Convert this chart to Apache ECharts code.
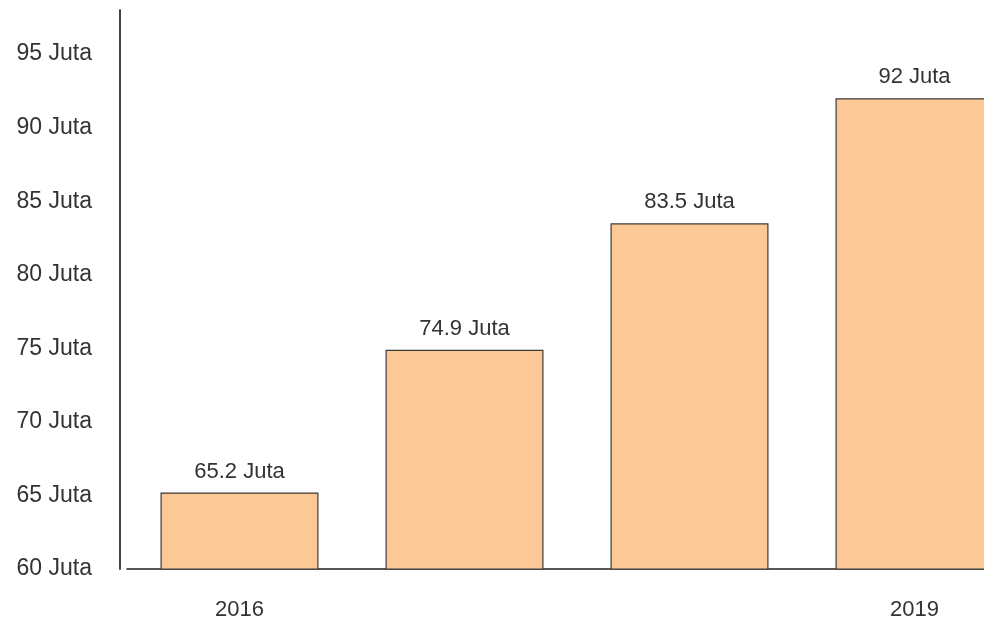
<!DOCTYPE html>
<html>
<head>
<meta charset="utf-8">
<script src="https://cdn.jsdelivr.net/npm/echarts@6/dist/echarts.min.js"></script>
<style>html,body{margin:0;padding:0;background:#fff;overflow:hidden}#c{width:984px;height:621px}</style>
</head>
<body>
<div id="c"></div>
<script>
const categories = ['2016', '2017', '2018', '2019'];
const values = [65.2, 74.9, 83.5, 92];
const shownXLabels = ['2016', '2019'];
const yMin = 60, yMax = 98, yStep = 5;
const unit = ' Juta';

const chart = echarts.init(document.getElementById('c'), null, {renderer: 'canvas'});
chart.setOption({
  animation: false,
  backgroundColor: '#ffffff',
  grid: {left: 127, width: 900, top: 10, bottom: 52, containLabel: false, outerBoundsMode: 'none'},
  xAxis: {
    type: 'category',
    data: categories,
    axisLine: {show: true, lineStyle: {color: '#222', width: 1.5}},
    axisTick: {show: false},
    axisLabel: {
      interval: 0,
      margin: 30,
      color: '#333',
      fontFamily: 'Liberation Sans, Arial, sans-serif',
      fontSize: 22,
      formatter: v => shownXLabels.includes(v) ? v : ''
    },
    splitLine: {show: false}
  },
  yAxis: {
    type: 'value',
    min: yMin,
    max: yMax,
    interval: yStep,
    offset: 7,
    axisLine: {show: true, lineStyle: {color: '#444', width: 2}},
    axisTick: {show: false},
    splitLine: {show: false},
    axisLabel: {
      showMaxLabel: false,
      margin: 28,
      color: '#333',
      fontFamily: 'Liberation Sans, Arial, sans-serif',
      fontSize: 23,
      formatter: v => v + unit
    }
  },
  series: [{
    type: 'bar',
    data: values,
    barWidth: 158,
    itemStyle: {color: '#FBC896', borderColor: '#3a3a3a', borderWidth: 1.2},
    label: {
      show: true,
      position: 'top',
      distance: 10,
      color: '#333',
      fontFamily: 'Liberation Sans, Arial, sans-serif',
      fontSize: 22,
      formatter: p => p.value + unit
    }
  }]
});
</script>
</body>
</html>
